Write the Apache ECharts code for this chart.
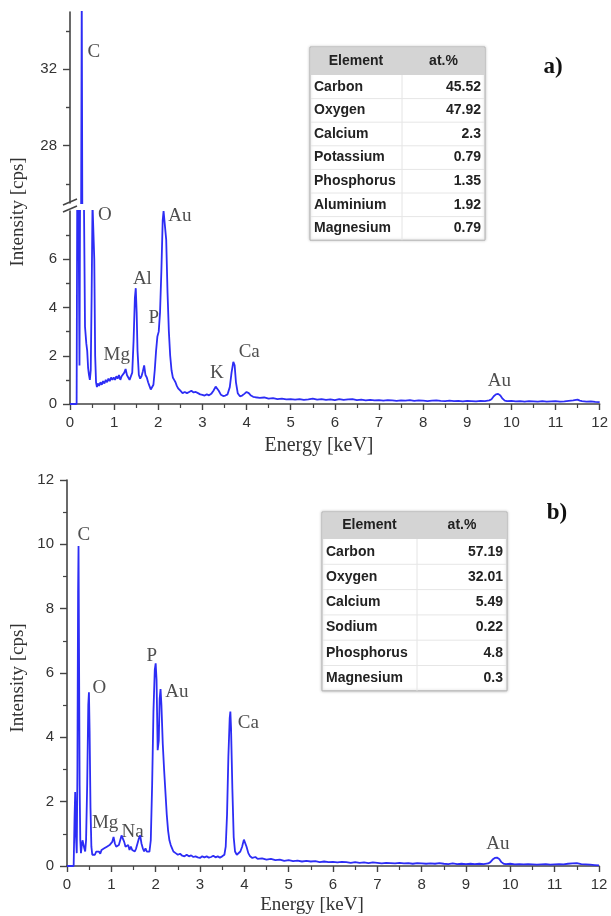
<!DOCTYPE html>
<html>
<head>
<meta charset="utf-8">
<script src="https://cdn.jsdelivr.net/npm/echarts@6/dist/echarts.min.js"></script>
<style>
  html, body { margin: 0; padding: 0; background: #fff; }
  #chart { width: 611px; height: 916px; }
</style>
</head>
<body>
<div id="chart"></div>
<script>
// spectrum a)  [energy keV, intensity cps]
var spectrumA = [
  [0,0],[0.10,0],[0.15,0],[0.165,9.5],[0.19,9.2],[0.215,1.6],[0.235,12],[0.265,36],[0.29,14],[0.315,8.6],
  [0.34,3.2],[0.37,2.5],[0.39,2.2],[0.41,1.5],[0.43,1.2],[0.45,1.0],[0.47,1.4],[0.49,4.5],[0.51,8.3],[0.53,8.3],
  [0.55,6.0],[0.57,2.0],[0.59,0.9],[0.61,0.7],[0.63,0.85],[0.66,0.75],[0.69,0.9],[0.72,0.8],[0.75,0.95],[0.78,0.85],
  [0.81,1.0],[0.84,0.9],[0.87,1.05],[0.90,0.95],[0.93,1.1],[0.96,1.0],[0.99,1.1],[1.02,1.0],[1.05,1.15],[1.08,1.05],
  [1.11,1.2],[1.14,1.0],[1.17,1.15],[1.20,1.1],[1.23,1.3],[1.26,1.45],[1.29,1.2],[1.32,1.1],[1.35,1.0],[1.38,0.95],
  [1.41,1.3],[1.44,2.6],[1.47,4.4],[1.49,4.8],[1.51,3.8],[1.53,2.2],[1.56,1.2],[1.59,1.05],[1.62,1.15],[1.65,1.35],
  [1.68,1.6],[1.71,1.2],[1.74,1.1],[1.77,0.9],[1.80,0.75],[1.83,0.6],[1.86,0.55],[1.89,0.8],[1.92,1.4],[1.95,2.2],
  [1.98,2.8],[2.01,3.0],[2.04,3.8],[2.07,5.5],[2.10,7.6],[2.12,8.0],[2.15,8.0],[2.18,6.8],[2.21,4.6],[2.24,3.0],
  [2.27,2.0],[2.30,1.4],[2.33,1.1],[2.36,1.0],[2.39,0.9],[2.42,0.75],[2.45,0.65],[2.50,0.55],[2.55,0.45],[2.60,0.5],
  [2.65,0.45],[2.70,0.5],[2.75,0.55],[2.80,0.48],[2.85,0.5],[2.90,0.45],[2.95,0.4],[3.00,0.38],[3.05,0.35],[3.10,0.4],
  [3.15,0.36],[3.20,0.42],[3.25,0.55],[3.30,0.72],[3.33,0.75],[3.37,0.55],[3.42,0.38],[3.47,0.33],[3.52,0.35],[3.57,0.4],
  [3.62,0.7],[3.66,1.3],[3.70,1.75],[3.73,1.6],[3.76,0.9],[3.80,0.45],[3.85,0.32],[3.90,0.35],[3.95,0.42],[4.00,0.5],
  [4.05,0.45],[4.10,0.35],[4.15,0.3],[4.20,0.28],[4.30,0.25],[4.40,0.27],[4.50,0.22],[4.60,0.24],[4.70,0.2],[4.80,0.22],
  [4.90,0.19],[5.00,0.2],[5.10,0.18],[5.20,0.2],[5.30,0.17],[5.40,0.19],[5.50,0.22],[5.60,0.18],[5.70,0.2],[5.80,0.17],
  [5.90,0.19],[6.00,0.16],[6.10,0.2],[6.20,0.17],[6.30,0.19],[6.40,0.2],[6.50,0.16],[6.60,0.18],[6.70,0.15],[6.80,0.17],
  [6.90,0.15],[7.00,0.16],[7.10,0.14],[7.20,0.16],[7.30,0.15],[7.40,0.13],[7.50,0.15],[7.60,0.14],[7.70,0.16],[7.80,0.13],
  [7.90,0.15],[8.00,0.14],[8.10,0.12],[8.20,0.14],[8.30,0.15],[8.40,0.13],[8.50,0.12],[8.60,0.14],[8.70,0.12],[8.80,0.13],
  [8.90,0.11],[9.00,0.13],[9.10,0.12],[9.20,0.11],[9.30,0.13],[9.40,0.12],[9.50,0.15],[9.55,0.2],[9.60,0.32],[9.65,0.4],
  [9.70,0.42],[9.75,0.35],[9.80,0.22],[9.85,0.14],[9.90,0.12],[10.0,0.13],[10.1,0.11],[10.2,0.12],[10.3,0.1],[10.4,0.12],
  [10.5,0.11],[10.6,0.1],[10.7,0.12],[10.8,0.1],[10.9,0.11],[11.0,0.12],[11.1,0.1],[11.2,0.11],[11.3,0.13],[11.4,0.15],
  [11.5,0.18],[11.55,0.14],[11.6,0.12],[11.7,0.1],[11.8,0.11],[11.9,0.09],[12.0,0.08]
];

// spectrum b)
var spectrumB = [
  [0,0],[0.10,0],[0.15,0],[0.17,1.5],[0.185,2.3],[0.20,1.0],[0.22,0.4],[0.235,3.0],[0.25,8.5],[0.26,9.95],
  [0.27,7.0],[0.285,2.5],[0.30,0.8],[0.315,0.4],[0.33,0.6],[0.35,0.8],[0.37,0.75],[0.39,0.55],[0.41,0.45],[0.43,0.8],
  [0.455,2.5],[0.48,5.0],[0.495,5.4],[0.51,4.2],[0.53,1.8],[0.55,0.6],[0.57,0.35],[0.60,0.4],[0.63,0.35],[0.66,0.45],
  [0.69,0.4],[0.72,0.45],[0.75,0.38],[0.78,0.5],[0.81,0.45],[0.84,0.55],[0.87,0.5],[0.90,0.6],[0.93,0.55],[0.96,0.65],
  [0.99,0.6],[1.02,0.75],[1.05,0.9],[1.08,0.7],[1.11,0.6],[1.14,0.55],[1.17,0.65],[1.20,0.8],[1.23,0.95],[1.26,1.0],
  [1.29,0.75],[1.32,0.6],[1.35,0.55],[1.38,0.65],[1.41,0.5],[1.44,0.6],[1.47,0.5],[1.50,0.55],[1.53,0.45],[1.56,0.55],
  [1.59,0.7],[1.62,0.85],[1.65,0.95],[1.68,0.7],[1.71,0.55],[1.74,0.45],[1.77,0.55],[1.80,0.45],[1.83,0.5],[1.86,0.45],
  [1.89,0.8],[1.92,2.5],[1.95,4.8],[1.98,6.1],[2.00,6.3],[2.02,5.8],[2.045,3.6],[2.07,3.9],[2.09,5.2],[2.11,5.5],
  [2.13,5.0],[2.16,3.8],[2.19,3.0],[2.22,2.3],[2.25,1.6],[2.28,1.1],[2.31,0.8],[2.34,0.65],[2.37,0.55],[2.40,0.45],
  [2.45,0.4],[2.50,0.35],[2.55,0.38],[2.60,0.32],[2.65,0.3],[2.70,0.35],[2.75,0.3],[2.80,0.33],[2.85,0.28],[2.90,0.3],
  [2.95,0.27],[3.00,0.25],[3.05,0.3],[3.10,0.27],[3.15,0.3],[3.20,0.26],[3.25,0.28],[3.30,0.32],[3.35,0.27],[3.40,0.3],
  [3.45,0.26],[3.50,0.3],[3.55,0.35],[3.58,0.6],[3.61,1.6],[3.64,3.4],[3.67,4.6],[3.685,4.8],[3.70,4.3],[3.73,2.4],
  [3.76,0.9],[3.79,0.45],[3.83,0.35],[3.87,0.38],[3.91,0.45],[3.95,0.6],[3.99,0.82],[4.02,0.86],[4.05,0.6],[4.09,0.4],
  [4.13,0.3],[4.18,0.25],[4.25,0.28],[4.30,0.22],[4.40,0.24],[4.50,0.2],[4.60,0.22],[4.70,0.18],[4.80,0.2],[4.90,0.16],
  [5.00,0.18],[5.10,0.15],[5.20,0.17],[5.30,0.14],[5.40,0.16],[5.50,0.14],[5.60,0.15],[5.70,0.12],[5.80,0.14],[5.90,0.12],
  [6.00,0.13],[6.10,0.11],[6.20,0.13],[6.30,0.12],[6.40,0.1],[6.50,0.12],[6.60,0.1],[6.70,0.11],[6.80,0.09],[6.90,0.11],
  [7.00,0.1],[7.10,0.08],[7.20,0.1],[7.30,0.09],[7.40,0.08],[7.50,0.1],[7.60,0.08],[7.70,0.09],[7.80,0.07],[7.90,0.09],
  [8.00,0.08],[8.10,0.07],[8.20,0.08],[8.30,0.07],[8.40,0.09],[8.50,0.07],[8.60,0.06],[8.70,0.08],[8.80,0.06],[8.90,0.07],
  [9.00,0.06],[9.10,0.07],[9.20,0.06],[9.30,0.07],[9.40,0.06],[9.50,0.08],[9.55,0.12],[9.60,0.2],[9.65,0.25],[9.70,0.26],
  [9.75,0.22],[9.80,0.12],[9.85,0.07],[9.90,0.06],[10.0,0.07],[10.1,0.05],[10.2,0.06],[10.3,0.05],[10.4,0.06],[10.5,0.05],
  [10.6,0.04],[10.7,0.05],[10.8,0.06],[10.9,0.04],[11.0,0.05],[11.1,0.06],[11.2,0.05],[11.3,0.07],[11.4,0.08],[11.5,0.09],
  [11.6,0.06],[11.7,0.05],[11.8,0.04],[11.9,0.03],[12.0,0.02]
];

// peak labels: [text, energy, intensity]
var peaksAUpper = [['C', 0.54, 32.9]];
var peaksALower = [['O', 0.79, 7.85], ['Au', 2.49, 7.8], ['Al', 1.64, 5.2], ['P', 1.9, 3.55],
                   ['Mg', 1.06, 2.03], ['K', 3.33, 1.3], ['Ca', 4.06, 2.17], ['Au', 9.73, 0.97]];
var peaksB = [['C', 0.38, 10.3], ['O', 0.73, 5.52], ['P', 1.91, 6.52], ['Au', 2.48, 5.41], ['Ca', 4.09, 4.43],
              ['Mg', 0.86, 1.33], ['Na', 1.48, 1.07], ['Au', 9.72, 0.68]];

// tick values
var upperTicksA = [28, 32];
var upperMinorA = [26, 30, 34];
var lowerTicksA = [0, 2, 4, 6];
var lowerMinorA = [1, 3, 5, 7];

// composition tables
var elementsA = ['Carbon', 'Oxygen', 'Calcium', 'Potassium', 'Phosphorus', 'Aluminium', 'Magnesium'];
var atPctA = ['45.52', '47.92', '2.3', '0.79', '1.35', '1.92', '0.79'];
var elementsB = ['Carbon', 'Oxygen', 'Calcium', 'Sodium', 'Phosphorus', 'Magnesium'];
var atPctB = ['57.19', '32.01', '5.49', '0.22', '4.8', '0.3'];

var BLUE = '#2d2df5';
var AXIS = '#444';
var SANS = 'Liberation Sans, Arial, sans-serif';
var SERIF = 'Liberation Serif, Times New Roman, serif';

function xAxisCfg(grid, show) {
  return {
    gridIndex: grid, type: 'value', min: 0, max: 12, interval: 1, show: show,
    axisLine: { lineStyle: { color: AXIS, width: 1.6 } },
    axisTick: { length: 6, lineStyle: { color: AXIS, width: 1.4 } },
    minorTick: { show: true, splitNumber: 2, length: 4, lineStyle: { color: AXIS, width: 1.2 } },
    axisLabel: { color: '#333', fontFamily: SANS, fontSize: 15, margin: 11 },
    splitLine: { show: false }
  };
}

function yAxisCfg(grid, min, max, labels, ticks, len) {
  return {
    gridIndex: grid, type: 'value', min: min, max: max, position: 'left',
    axisLine: { show: labels != null, lineStyle: { color: AXIS, width: 1.6 } },
    axisTick: { show: true, customValues: ticks, length: len, lineStyle: { color: AXIS, width: 1.4 } },
    axisLabel: labels ? { customValues: labels, color: '#333', fontFamily: SANS, fontSize: 15, margin: 13 } : { show: false },
    splitLine: { show: false }
  };
}

function labelSeries(xi, yi, list) {
  return {
    type: 'scatter', xAxisIndex: xi, yAxisIndex: yi, symbolSize: 0, clip: false, silent: true,
    data: list.map(function (p) { return { value: [p[1], p[2]], name: p[0] }; }),
    label: { show: true, position: 'inside', formatter: '{b}', color: '#222', fontFamily: SERIF, fontSize: 19 }
  };
}

function lineSeries(xi, yi, data) {
  return {
    type: 'line', xAxisIndex: xi, yAxisIndex: yi, data: data, showSymbol: false, clip: true,
    lineStyle: { color: BLUE, width: 1.8 }, silent: true
  };
}

function table(x, y, w, split, headH, rowH, names, vals) {
  var els = [];
  var h = headH + rowH * names.length;
  els.push({ type: 'rect', shape: { x: x, y: y, width: w, height: h },
    style: { fill: '#fff', stroke: '#b4b4b4', lineWidth: 1, shadowBlur: 3, shadowColor: 'rgba(0,0,0,0.25)' } });
  els.push({ type: 'rect', shape: { x: x + 1, y: y + 1, width: w - 2, height: headH - 1 }, style: { fill: '#d4d4d4' } });
  els.push({ type: 'line', shape: { x1: x + split, y1: y + headH, x2: x + split, y2: y + h }, style: { stroke: '#e4e4e4', lineWidth: 1 } });
  var font = 'bold 14px ' + SANS;
  els.push({ type: 'text', style: { x: x + split / 2, y: y + headH / 2, text: 'Element', font: font, fill: '#222', textAlign: 'center', textVerticalAlign: 'middle' } });
  els.push({ type: 'text', style: { x: x + split + (w - split) / 2, y: y + headH / 2, text: 'at.%', font: font, fill: '#222', textAlign: 'center', textVerticalAlign: 'middle' } });
  for (var i = 0; i < names.length; i++) {
    var cy = y + headH + rowH * i + rowH / 2;
    if (i > 0) {
      els.push({ type: 'line', shape: { x1: x + 1, y1: y + headH + rowH * i, x2: x + w - 1, y2: y + headH + rowH * i }, style: { stroke: '#e6e6e6', lineWidth: 1 } });
    }
    els.push({ type: 'text', style: { x: x + 4, y: cy, text: names[i], font: font, fill: '#222', textAlign: 'left', textVerticalAlign: 'middle' } });
    els.push({ type: 'text', style: { x: x + w - 4, y: cy, text: vals[i], font: font, fill: '#222', textAlign: 'right', textVerticalAlign: 'middle' } });
  }
  return els;
}

var graphics = []
  .concat(table(310, 47, 175, 92, 28, 23.6, elementsA, atPctA))
  .concat(table(322, 512, 185, 95, 27, 25.3, elementsB, atPctB))
  .concat([
    // axis break marks
    { type: 'line', shape: { x1: 63, y1: 205, x2: 77, y2: 199 }, style: { stroke: AXIS, lineWidth: 1.5 } },
    { type: 'line', shape: { x1: 63, y1: 212, x2: 77, y2: 206 }, style: { stroke: AXIS, lineWidth: 1.5 } },
    { type: 'text', style: { x: 553, y: 67, text: 'a)', font: 'bold 23px ' + SERIF, fill: '#111', textAlign: 'center', textVerticalAlign: 'middle' } },
    { type: 'text', style: { x: 557, y: 513, text: 'b)', font: 'bold 23px ' + SERIF, fill: '#111', textAlign: 'center', textVerticalAlign: 'middle' } },
    { type: 'text', rotation: Math.PI / 2, x: 18, y: 212, style: { x: 0, y: 0, text: 'Intensity [cps]', font: '19px ' + SERIF, fill: '#333', textAlign: 'center', textVerticalAlign: 'middle' } },
    { type: 'text', rotation: Math.PI / 2, x: 18, y: 678, style: { x: 0, y: 0, text: 'Intensity [cps]', font: '19px ' + SERIF, fill: '#333', textAlign: 'center', textVerticalAlign: 'middle' } },
    { type: 'text', style: { x: 319, y: 446, text: 'Energy [keV]', font: '20px ' + SERIF, fill: '#333', textAlign: 'center', textVerticalAlign: 'middle' } },
    { type: 'text', style: { x: 312, y: 905, text: 'Energy [keV]', font: '19px ' + SERIF, fill: '#333', textAlign: 'center', textVerticalAlign: 'middle' } }
  ]);

var chart = echarts.init(document.getElementById('chart'));
chart.setOption({
  animation: false,
  backgroundColor: '#fff',
  grid: [
    { left: 70, top: 12, width: 532, height: 191 },
    { left: 70, top: 211, width: 532, height: 193 },
    { left: 67, top: 480, width: 532, height: 386 }
  ],
  xAxis: [xAxisCfg(0, false), xAxisCfg(1, true), xAxisCfg(2, true)],
  yAxis: [
    yAxisCfg(0, 25, 35, upperTicksA, upperTicksA, 7),
    yAxisCfg(0, 25, 35, null, upperMinorA, 4),
    yAxisCfg(1, 0, 8, lowerTicksA, lowerTicksA, 7),
    yAxisCfg(1, 0, 8, null, lowerMinorA, 4),
    {
      gridIndex: 2, type: 'value', min: 0, max: 12, interval: 2,
      axisLine: { show: true, lineStyle: { color: AXIS, width: 1.6 } },
      axisTick: { length: 7, lineStyle: { color: AXIS, width: 1.4 } },
      minorTick: { show: true, splitNumber: 2, length: 4, lineStyle: { color: AXIS, width: 1.2 } },
      axisLabel: { color: '#333', fontFamily: SANS, fontSize: 15, margin: 13 },
      splitLine: { show: false }
    }
  ],
  series: [
    lineSeries(0, 0, spectrumA),
    lineSeries(1, 2, spectrumA),
    lineSeries(2, 4, spectrumB),
    labelSeries(0, 0, peaksAUpper),
    labelSeries(1, 2, peaksALower),
    labelSeries(2, 4, peaksB)
  ],
  graphic: graphics
});
</script>
</body>
</html>
